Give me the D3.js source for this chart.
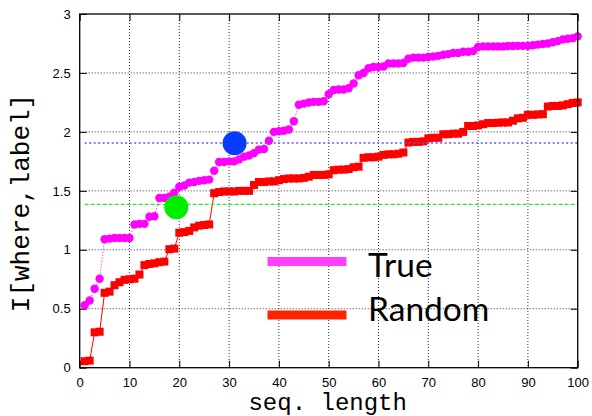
<!DOCTYPE html>
<html>
<head>
<meta charset="utf-8">
<script src="https://cdn.jsdelivr.net/npm/d3@7/dist/d3.min.js"></script>
<style>
  html, body { margin: 0; padding: 0; background: #fff; }
  svg { display: block; }
</style>
</head>
<body>
<svg id="chart" width="592" height="416"></svg>
<script>
// Sequence lengths on the x axis
const seqLength = d3.range(1, 101);

// I[where,label] for the true labelling
const trueValues = [
  0.53, 0.57, 0.67, 0.755, 1.09, 1.095, 1.10, 1.10, 1.10, 1.10,
  1.215, 1.22, 1.22, 1.28, 1.285, 1.44, 1.44, 1.45, 1.485, 1.535,
  1.545, 1.57, 1.575, 1.585, 1.59, 1.595, 1.67, 1.745, 1.745, 1.75,
  1.75, 1.767, 1.79, 1.80, 1.82, 1.85, 1.855, 1.925, 2.0, 2.005,
  2.01, 2.02, 2.09, 2.23, 2.24, 2.25, 2.255, 2.255, 2.26, 2.32,
  2.355, 2.36, 2.36, 2.37, 2.41, 2.48, 2.50, 2.54, 2.55, 2.55,
  2.555, 2.58, 2.58, 2.58, 2.585, 2.62, 2.63, 2.63, 2.63, 2.635,
  2.64, 2.645, 2.655, 2.66, 2.67, 2.67, 2.68, 2.68, 2.685, 2.72,
  2.725, 2.725, 2.725, 2.725, 2.725, 2.728, 2.728, 2.73, 2.73, 2.73,
  2.735, 2.74, 2.745, 2.75, 2.76, 2.77, 2.785, 2.79, 2.795, 2.81
];

// I[where,label] for a random labelling
const randomValues = [
  0.055, 0.06, 0.30, 0.305, 0.635, 0.645, 0.70, 0.725, 0.745, 0.75,
  0.755, 0.79, 0.87, 0.88, 0.885, 0.895, 0.90, 1.005, 1.01, 1.145,
  1.15, 1.16, 1.19, 1.205, 1.21, 1.215, 1.48, 1.49, 1.495, 1.495,
  1.495, 1.50, 1.50, 1.50, 1.55, 1.575, 1.575, 1.58, 1.58, 1.59,
  1.60, 1.605, 1.605, 1.605, 1.61, 1.62, 1.635, 1.635, 1.635, 1.64,
  1.675, 1.68, 1.68, 1.685, 1.70, 1.705, 1.78, 1.785, 1.785, 1.79,
  1.805, 1.81, 1.81, 1.815, 1.825, 1.91, 1.915, 1.915, 1.92, 1.945,
  1.95, 1.95, 1.98, 1.98, 1.985, 1.985, 2.0, 2.05, 2.05, 2.055,
  2.065, 2.075, 2.075, 2.078, 2.08, 2.08, 2.095, 2.115, 2.12, 2.145,
  2.145, 2.148, 2.15, 2.215, 2.22, 2.22, 2.225, 2.235, 2.245, 2.25
];

// Reference levels (horizontal lines) and highlighted points
const refLevels = [
  { name: "green", value: 1.385 },
  { name: "blue", value: 1.906 }
];
const highlights = [
  { name: "green", x: 19.4, y: 1.36 },
  { name: "blue", x: 31.1, y: 1.903 }
];

// Axis ticks and legend labels
const xTicks = [0, 10, 20, 30, 40, 50, 60, 70, 80, 90, 100];
const yTicks = [0, 0.5, 1, 1.5, 2, 2.5, 3];
const yTickLabels = ["0", "0.5", "1", "1.5", "2", "2.5", "3"];
const legendLabels = ["True", "Random"];

const svg = d3.select("#chart");
const plotL = 79.7, plotR = 577.7, plotT = 14, plotB = 367.7;

const x = d3.scaleLinear().domain([0, 100]).range([plotL, plotR]);
const y = d3.scaleLinear().domain([0, 3]).range([plotB, plotT]);

const tickFont = "'Liberation Sans', Arial, sans-serif";
const monoFont = "'Liberation Mono', 'DejaVu Sans Mono', monospace";

// Dotted grid
const grid = svg.append("g");
grid.append("g")
  .selectAll("line").data(xTicks.slice(1, -1)).join("line")
  .attr("x1", d => x(d)).attr("x2", d => x(d))
  .attr("y1", plotT).attr("y2", plotB);
grid.append("g")
  .selectAll("line").data(yTicks.slice(1, -1)).join("line")
  .attr("x1", plotL).attr("x2", plotR)
  .attr("y1", d => y(d)).attr("y2", d => y(d));
grid.selectAll("line")
  .attr("stroke", "#333")
  .attr("stroke-width", 1)
  .attr("stroke-dasharray", "1,2");

// Axes with inward ticks on all four sides
const tickLen = 7;
const axB = svg.append("g").attr("transform", `translate(0,${plotB})`)
  .call(d3.axisBottom(x).tickValues(xTicks).tickSizeInner(-tickLen).tickSizeOuter(0).tickPadding(10));
const axT = svg.append("g").attr("transform", `translate(0,${plotT})`)
  .call(d3.axisTop(x).tickValues(xTicks).tickSizeInner(-tickLen).tickSizeOuter(0).tickFormat(""));
const axL = svg.append("g").attr("transform", `translate(${plotL},0)`)
  .call(d3.axisLeft(y).tickValues(yTicks).tickSizeInner(-tickLen).tickSizeOuter(0).tickPadding(9)
    .tickFormat((d, i) => yTickLabels[i]));
const axR = svg.append("g").attr("transform", `translate(${plotR},0)`)
  .call(d3.axisRight(y).tickValues(yTicks).tickSizeInner(-tickLen).tickSizeOuter(0).tickFormat(""));
[axB, axT, axL, axR].forEach(a => {
  a.select(".domain").remove();
  a.selectAll(".tick line").attr("stroke", "#000").attr("stroke-width", 1);
  a.selectAll("text").attr("fill", "#000")
    .style("font-family", tickFont).style("font-size", "13px");
});

// True series: magenta dots joined by a dotted line
const trueData = seqLength.map((s, i) => [s, trueValues[i]]);
const randData = seqLength.map((s, i) => [s, randomValues[i]]);
const line = d3.line().x(d => x(d[0])).y(d => y(d[1]));

svg.append("path").datum(trueData)
  .attr("d", line).attr("fill", "none")
  .attr("stroke", "#ff00ff").attr("stroke-width", 1)
  .attr("stroke-dasharray", "1,2");
svg.append("g").selectAll("circle").data(trueData).join("circle")
  .attr("cx", d => x(d[0])).attr("cy", d => y(d[1])).attr("r", 4.2)
  .attr("fill", "#ff00ff");

// Random series: red squares joined by a solid line
svg.append("path").datum(randData)
  .attr("d", line).attr("fill", "none")
  .attr("stroke", "#ff0000").attr("stroke-width", 1);
const sq = 8;
svg.append("g").selectAll("rect").data(randData).join("rect")
  .attr("x", d => x(d[0]) - sq / 2).attr("y", d => y(d[1]) - sq / 2)
  .attr("width", sq).attr("height", sq)
  .attr("fill", "#ff0000");

// Reference levels
const levelStyle = {
  green: { stroke: "#33e633", dash: "4,2", width: 1.2 },
  blue: { stroke: "#5a5ae6", dash: "2,2.5", width: 1.5 }
};
svg.append("g").selectAll("line").data(refLevels).join("line")
  .attr("x1", x(1)).attr("x2", plotR)
  .attr("y1", d => y(d.value)).attr("y2", d => y(d.value))
  .attr("stroke", d => levelStyle[d.name].stroke)
  .attr("stroke-width", d => levelStyle[d.name].width)
  .attr("stroke-dasharray", d => levelStyle[d.name].dash);

// Highlighted points
const highlightFill = { green: "#00ee00", blue: "#0a3cff" };
svg.append("g").selectAll("circle").data(highlights).join("circle")
  .attr("cx", d => x(d.x)).attr("cy", d => y(d.y)).attr("r", 12)
  .attr("fill", d => highlightFill[d.name]);

// Plot border
svg.append("rect")
  .attr("x", plotL).attr("y", plotT)
  .attr("width", plotR - plotL).attr("height", plotB - plotT)
  .attr("fill", "none").attr("stroke", "#000").attr("stroke-width", 1.3);

// Legend: thick line samples with labels
const legendColors = ["#ff40ff", "#ff2200"];
const legendRows = [
  { barY: 261.5, textY: 277 },
  { barY: 315, textY: 321 }
];
const legend = svg.append("g");
legendLabels.forEach((lab, i) => {
  legend.append("rect")
    .attr("x", 267.5).attr("y", legendRows[i].barY - 4.5)
    .attr("width", 79).attr("height", 9)
    .attr("fill", legendColors[i]);
  legend.append("text")
    .attr("x", 368).attr("y", legendRows[i].textY)
    .attr("fill", "#000")
    .style("font-family", "Lato, 'Open Sans', sans-serif")
    .style("font-size", "33.5px")
    .text(lab);
});

// Axis titles
svg.append("text")
  .attr("x", (plotL + plotR) / 2 - 1).attr("y", 410)
  .attr("text-anchor", "middle").attr("fill", "#000")
  .style("font-family", monoFont).style("font-size", "24px")
  .text("seq. length");
svg.append("text")
  .attr("transform", "translate(29,203) rotate(-90)")
  .attr("text-anchor", "middle").attr("fill", "#000")
  .style("font-family", monoFont).style("font-size", "26px")
  .text("I[where,label]");
</script>
</body>
</html>
